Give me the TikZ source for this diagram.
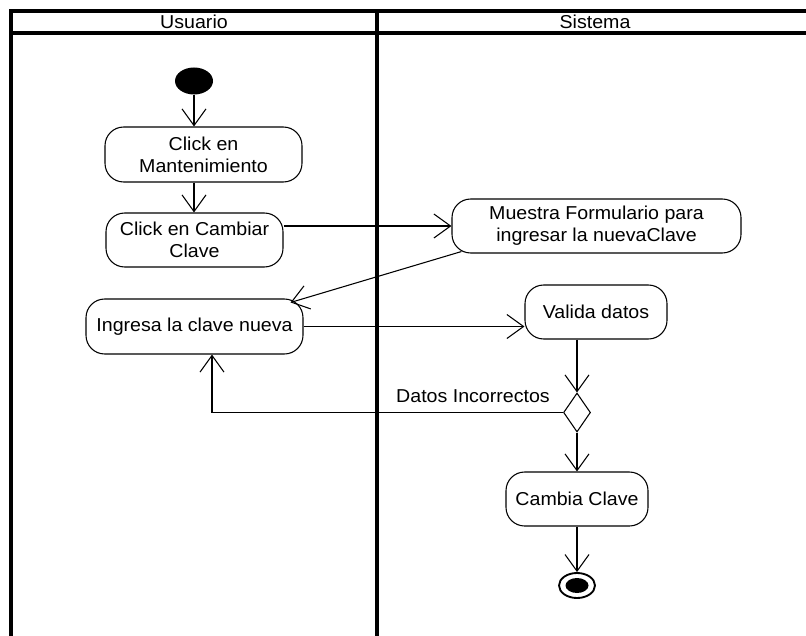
\documentclass[tikz,border=0pt]{standalone}
\usepackage{fontspec}
\setmainfont[FakeStretch=1.05]{Liberation Sans}
\usetikzlibrary{arrows.meta,shapes.geometric,calc}
\newdimen\pxu \pxu=0.75pt
\begin{document}
\begin{tikzpicture}[x=0.75pt,y=-0.75pt,
  txt/.style={font=\fontsize{14pt}{16.5pt}\selectfont, align=center, inner sep=0pt},
  act/.style={txt, draw, rounded corners=14pt, line width=0.8pt},
  arr/.style={-{Straight Barb[length=12.5pt,width=18pt,line width=0.8pt]}, line width=0.8pt},
  lane/.style={line width=2.3pt}]
\useasboundingbox (0,0) rectangle (806,635);
% swimlane frame
\coordinate (tl) at (11,11);
\coordinate (hl) at (11,33);
\coordinate (tr) at (810,11);
\coordinate (hr) at (810,33);
\coordinate (bl) at (11,640);
\coordinate (dt) at (377,11);
\coordinate (db) at (377,640);
\draw[lane] (tr) -- (tl) -- (bl);
\draw[lane] (hl) -- (hr);
\draw[lane] (dt) -- (db);
\node[txt] (usuario) at (194,22) {Usuario};
\node[txt] (sistema) at (595,22) {Sistema};
% nodes
\node[ellipse, fill=black, minimum width=28.5pt, minimum height=20.25pt, inner sep=0pt] (init) at (194,81) {};
\node[act, minimum width=147.75pt, minimum height=41.25pt] (mant) at (203.5,154.5) {Click en\\Mantenimiento};
\node[act, minimum width=132.75pt, minimum height=40.5pt] (camb) at (194.5,240) {Click en Cambiar\\Clave};
\node[act, minimum width=216.75pt, minimum height=40.5pt] (muestra) at (596.5,226) {Muestra Formulario para\\ingresar la nuevaClave};
\node[act, minimum width=162.75pt, minimum height=41.25pt] (ingresa) at (194.5,326.5) {Ingresa la clave nueva};
\node[act, minimum width=106.5pt, minimum height=40.5pt] (valida) at (596,312) {Valida datos};
\node[diamond, draw, line width=0.8pt, minimum width=20.25pt, minimum height=29.25pt, inner sep=0pt, fill=white] (dia) at (577,412.5) {};
\node[act, minimum width=106.5pt, minimum height=40.5pt] (cambia) at (577,499) {Cambia Clave};
\node[ellipse, draw, line width=1.4pt, minimum width=27pt, minimum height=18.75pt, inner sep=0pt] (final) at (577,585.5) {};
\node[ellipse, fill=black, minimum width=17.25pt, minimum height=11.25pt, inner sep=0pt] (finaldot) at (577,585.5) {};
\node[txt] (lbl) at (473,396) {Datos Incorrectos};
\coordinate (lp) at (212,0);
% connectors
\draw[arr] (init.south) -- (init.south |- mant.north);
\draw[arr] (init.south |- mant.south) -- (init.south |- camb.north);
\draw[arr] (camb.east |- muestra.west) -- (muestra.west);
\draw[arr] ($(muestra.south west)+(10,-2)$) -- ($(ingresa.north east)+(-13,4)$);
\draw[arr] (ingresa.east) -- (valida.west |- ingresa.east);
\draw[arr] (dia.north |- valida.south) -- (dia.north);
\draw[arr] (dia.west) -- (dia.west -| lp) -- (lp |- ingresa.south);
\draw[arr] (dia.south) -- (cambia.north);
\draw[arr] (cambia.south) -- (final.north);
\end{tikzpicture}
\end{document}
